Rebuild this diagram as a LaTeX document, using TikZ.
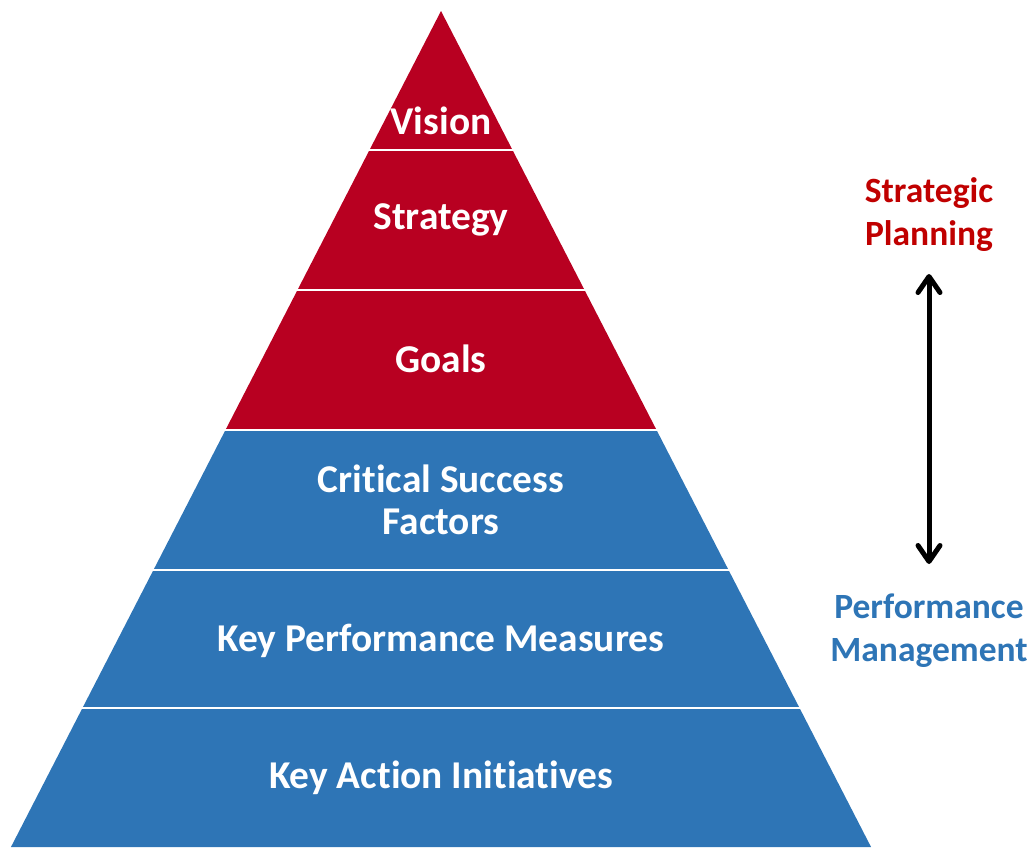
\documentclass[tikz,border=0pt]{standalone}
\usepackage{fontspec}
\setmainfont[Ligatures=NoCommon]{Carlito}
\usetikzlibrary{arrows.meta}
\definecolor{pyrred}{HTML}{B80021}
\definecolor{pyrblue}{HTML}{2E75B6}
\definecolor{lblred}{HTML}{C00000}
\tikzset{barbtip/.tip={Straight Barb[length=16pt,width=22pt,line width=5pt,round]}}
\begin{document}
\begin{tikzpicture}[x=1pt,y=-1pt,
  layertext/.style={text=white,font=\bfseries\fontsize{39.4}{42}\selectfont,align=center,inner sep=0pt},
  sidetext/.style={font=\bfseries\fontsize{35.5}{43}\selectfont,align=center,inner sep=0pt},
  sep/.style={draw=white,line width=2.2pt}]
\useasboundingbox (0,0) rectangle (1033,863);
% pyramid geometry: apex (441,11), base y=847, half-width 430
\def\sl{0.5144}
\fill[pyrred] (441,11) -- ({441-\sl*(430-11)},430) -- ({441+\sl*(430-11)},430) -- cycle;
\fill[pyrblue] ({441-\sl*(430-11)},430) -- ({441-\sl*(847-11)},847) -- ({441+\sl*(847-11)},847) -- ({441+\sl*(430-11)},430) -- cycle;
\foreach \yy in {150,290,430,570,708}{
  \draw[sep] ({441-\sl*(\yy-11)-2},\yy) -- ({441+\sl*(\yy-11)+2},\yy);
}
\node[layertext] (vision) at (441,121) {Vision};
\node[layertext] (strategy) at (441,220) {Strategy};
\node[layertext] (goals) at (441,359) {Goals};
\node[layertext] (csf) at (441,500) {Critical Success\\Factors};
\node[layertext] (kpm) at (441,641) {Key Performance Measures};
\node[layertext] (kai) at (441,778) {Key Action Initiatives};
\node[sidetext,text=lblred] (sp) at (929,215) {Strategic\\Planning};
\node[sidetext,text=pyrblue] (pm) at (929,631) {Performance\\Management};
\coordinate (atop) at (929,274);
\coordinate (abot) at (929,564);
\draw[line width=5pt,barbtip-barbtip] (atop) -- (abot);
\end{tikzpicture}
\end{document}
